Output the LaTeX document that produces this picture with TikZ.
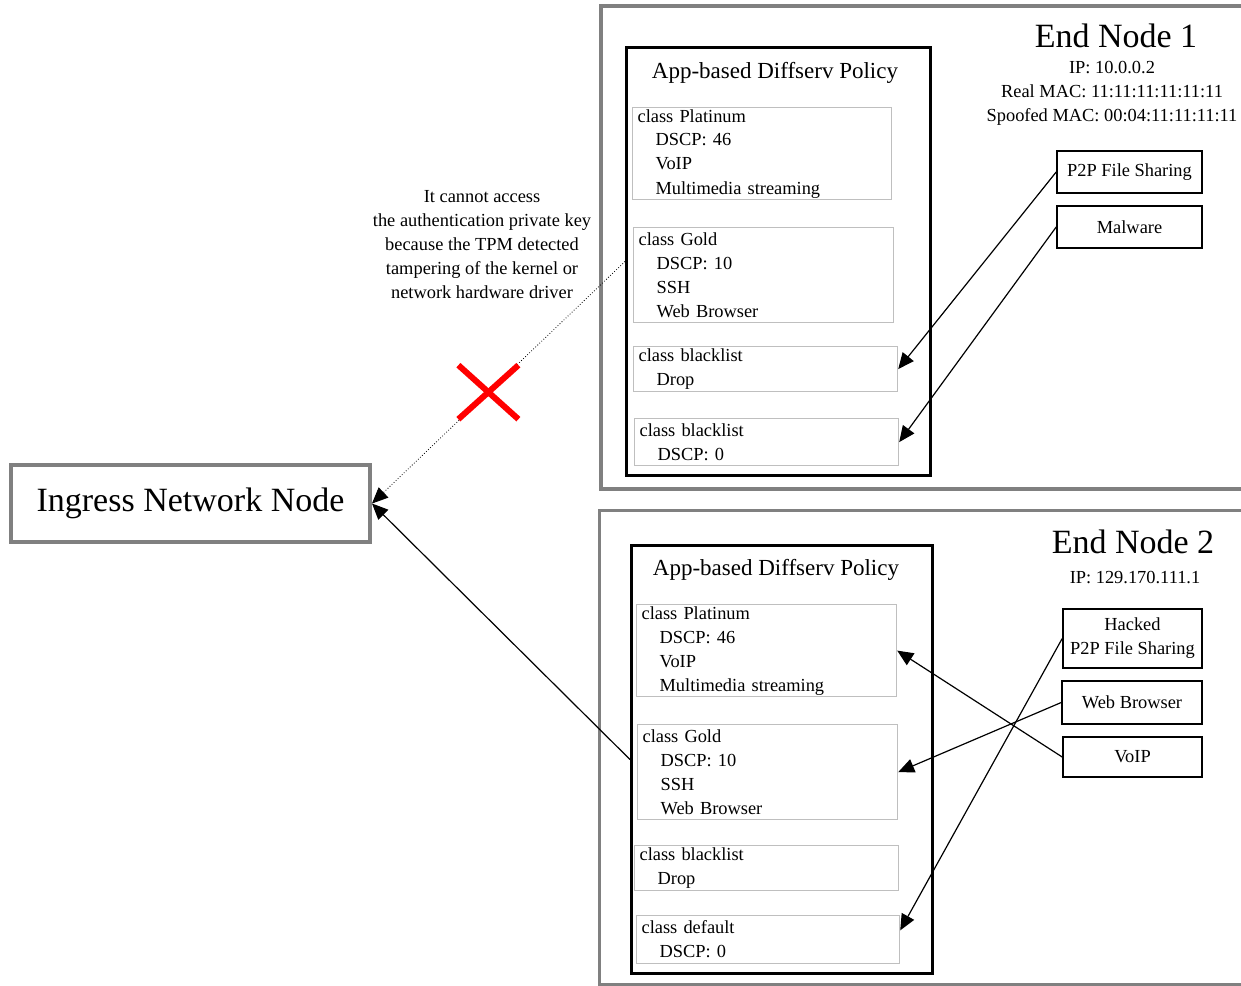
\documentclass[tikz,border=0pt]{standalone}
\usepackage{fontspec}
\setmainfont{Liberation Serif}
\usepackage{tikz}
\usetikzlibrary{calc, positioning, arrows.meta}
\newcommand{\clsfont}{\fontsize{9.2pt}{12pt}\selectfont}
\newcommand{\polfont}{\fontsize{11.5pt}{14pt}\selectfont}
\newcommand{\bigfont}{\fontsize{17pt}{20pt}\selectfont}
\newcommand{\indt}{\hspace*{9pt}}
\tikzstyle{encl}=[draw=gray, line width=2pt]
\tikzstyle{policy}=[draw, line width=1.5pt, inner sep=0pt, anchor=north west]
\tikzstyle{cls}=[draw=black!25, line width=0.6pt, anchor=north west, align=left, inner xsep=2.5pt, inner ysep=0pt, font=\clsfont, text width=#1]
\tikzstyle{app}=[draw, line width=0.8pt, align=center, inner sep=0pt, font=\clsfont]
\tikzstyle{flow}=[->, line width=0.6pt]
\tikzset{>={Triangle[length=8pt, width=7pt]}}

\begin{document}
\begin{tikzpicture}[x=0.5pt, y=-0.5pt]
\useasboundingbox (0,0) rectangle (1241,985);

% end node frames
\draw[encl] (601,6) rectangle (1250,489);
\draw[encl, line width=1.5pt] (599,510) rectangle (1250,984);

% ingress
\node[draw=gray, line width=2pt, minimum width=179.5pt, minimum height=38.5pt, font=\bigfont] (ingress) at (190.5,503.5) {Ingress Network Node};

% end node 1
\node[font=\bigfont] (end1) at (1116,36) {End Node 1};
\node[font=\clsfont, align=center] (info1) at (1112,93) {IP: 10.0.0.2\\Real MAC: 11:11:11:11:11:11\\Spoofed MAC: 00:04:11:11:11:11};
\node[policy, minimum width=152pt, minimum height=214pt] (pol1) at (625,46) {};
\node[font=\polfont] (title1) at (775,73) {App-based Diffserv Policy};
\node[cls=124.5pt, minimum height=46pt] (plat1) at (632,107) {class Platinum\\\indt DSCP: 46\\\indt VoIP\\\indt Multimedia streaming};
\node[cls=125pt, minimum height=47.5pt] (gold1) at (633,227) {class Gold\\\indt DSCP: 10\\\indt SSH\\\indt Web Browser};
\node[cls=127pt, minimum height=22.5pt] (black1) at (633,346) {class blacklist\\\indt Drop};
\node[cls=127pt, minimum height=23.5pt] (zero1) at (634,418) {class blacklist\\\indt DSCP: 0};
\node[app, minimum width=72.5pt, minimum height=21pt] (p2p) at (1129.5,172) {P2P File Sharing};
\node[app, minimum width=72.5pt, minimum height=21pt] (malware) at (1129.5,227) {Malware};

% end node 2
\node[font=\bigfont] (end2) at (1133,542) {End Node 2};
\node[font=\clsfont] (info2) at (1135,578) {IP: 129.170.111.1};
\node[policy, minimum width=150.5pt, minimum height=214pt] (pol2) at (630,544) {};
\node[font=\polfont] (title2) at (776,570) {App-based Diffserv Policy};
\node[cls=125pt, minimum height=46pt] (plat2) at (636,604) {class Platinum\\\indt DSCP: 46\\\indt VoIP\\\indt Multimedia streaming};
\node[cls=125pt, minimum height=47.5pt] (gold2) at (637,724) {class Gold\\\indt DSCP: 10\\\indt SSH\\\indt Web Browser};
\node[cls=127pt, minimum height=22.5pt] (black2) at (634,845) {class blacklist\\\indt Drop};
\node[cls=126.5pt, minimum height=24pt] (def2) at (636,915) {class default\\\indt DSCP: 0};
\node[app, minimum width=69.5pt, minimum height=29.5pt] (hacked) at (1132.5,638.5) {Hacked\\P2P File Sharing};
\node[app, minimum width=70pt, minimum height=21.5pt] (web) at (1132,702.5) {Web Browser};
\node[app, minimum width=69.5pt, minimum height=20pt] (voip) at (1132.5,757) {VoIP};

% app to class mapping
\draw[flow] (p2p.west) -- (black1.east);
\draw[flow] (malware.west) -- (zero1.east);
\draw[flow] (voip.west) -- (plat2.east);
\draw[flow] (web.west) -- (gold2.east);
\draw[flow] (hacked.west) -- (def2.4);

% towards ingress
\node[font=\clsfont, align=center] (note) at (482,245) {It cannot access\\the authentication private key\\because the TPM detected\\tampering of the kernel or\\network hardware driver};
\draw[->, densely dotted, line width=0.4pt] (pol1.west) -- (ingress.east);
\draw[flow] (pol2.west) -- (ingress.east);

% blocked
\coordinate (blk) at ($(pol1.west)!0.54!(ingress.east)$);
\draw[red, line width=3pt] ($(blk)+(-30,-27)$) -- ($(blk)+(30,27)$);
\draw[red, line width=3pt] ($(blk)+(-30,27)$) -- ($(blk)+(30,-27)$);
\end{tikzpicture}
\end{document}
